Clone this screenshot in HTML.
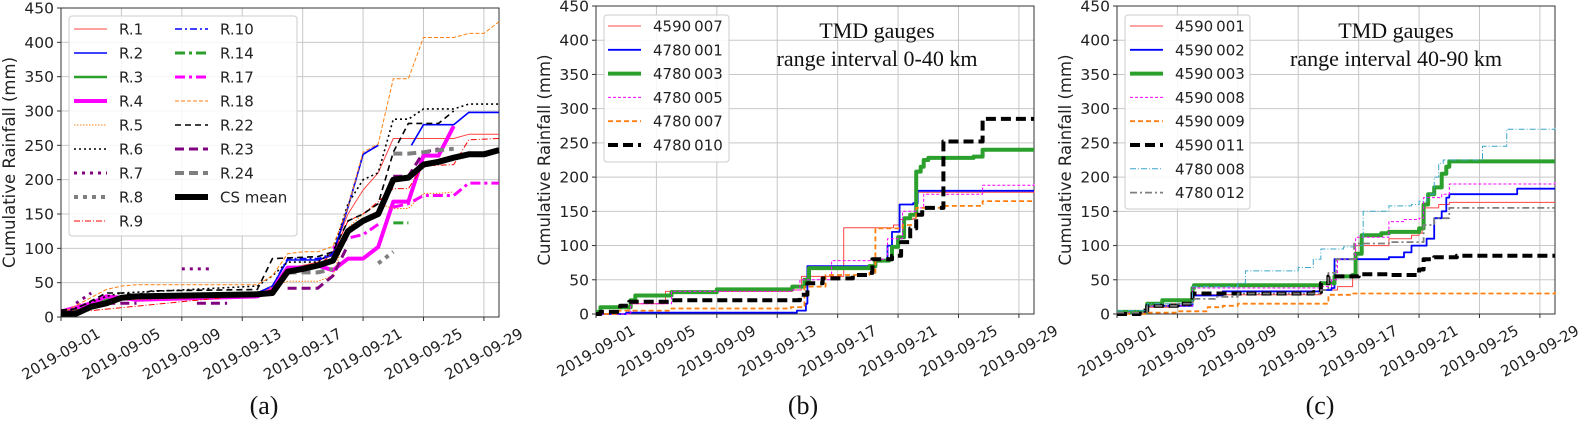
<!DOCTYPE html>
<html><head><meta charset="utf-8">
<style>
html,body{margin:0;padding:0;background:#fff;}
svg{display:block;}
text{font-family:"DejaVu Sans","Liberation Sans",sans-serif;}
.serif{font-family:"Liberation Serif","DejaVu Serif",serif;}
</style></head>
<body>
<svg id="chart" width="1587" height="424" viewBox="0 0 1587 424" xmlns="http://www.w3.org/2000/svg"></svg>
<script>
// ---------- DATA ----------
const yTicks = [0,50,100,150,200,250,300,350,400,450];
const xTickDays = [0,4,8,12,16,20,24,28];
const xTickLabels = ["2019-09-01","2019-09-05","2019-09-09","2019-09-13","2019-09-17","2019-09-21","2019-09-25","2019-09-29"];

// Panel (a) radar pixel series: [day, mm], null = gap
const aNames = ["R.1","R.2","R.3","R.4","R.5","R.6","R.7","R.8","R.9","R.10","R.14","R.17","R.18","R.22","R.23","R.24","CS mean"];
const aR1 = [[0,5],[2,15],[4,28],[13,33],[14,40],[15,72],[16,75],[17,80],[18,95],[19,150],[20,185],[21,210],[22,260],[26,260],[27,266],[29,266]];
const aR2 = [[0,3],[2,15],[4,30],[13,35],[14,45],[15,83],[17,83],[18,90],[19,160],[20,237],[21,250],null,[23.2,250],[24,280],[26,280],[27,298],[29,298]];
const aR3 = [[0,5],[2,20],[3,25],[4,30],[5,30]];
const aR4 = [[0,8],[2,20],[3,30],[4,28],[5,25],[13,30],[14,40],[15,72],[16,72],[17,75],[18,68],[19,85],[20,85],[21,102],[22,168],[23,168],[24,235],[25,235],[26,278]];
const aR5 = [[0,5],[4,25],[13,30],[14,45],[15,52],[17,52],[18,60],[19,130],[20,150],[21,165],[22,158],[23,158],[24,180],[25,180],[26,182]];
const aR6 = [[0,5],[3,30],[4,35],[13,45],[14,60],[15,80],[17,80],[18,95],[19,165],[20,200],[21,210],[22,288],[23,288],[24,303],[26,303],[27,310],[29,310]];
const aR7 = [[1,20],[2,35],null,[8,70],[10,70]];
const aR8 = [[21,78],[22,95]];
const aR9 = [[0,5],[13,33],[14,40],[15,70],[16,72],[17,75],[18,92],[19,140],[20,150],[21,168],[22,187],[23,187],[24,220],[26,222],[27,258],[29,260]];
const aR10 = [[13,35],[14,45],[15,85],[17,85],[18,92],[19,160],[20,237],[21,250]];
const aR14 = [[22,137],[23,137]];
const aR17 = [[18,100],[19,115],[20,120],[21,135],null,[22,160],[23,165],[24,177],[26,177],[27,195],[29,195]];
const aR18 = [[0,5],[3,40],[4,45],[5,47],[13,47],[14,60],[15,92],[16,95],[17,95],[18,103],[19,160],[20,240],[21,252],[22,347],[23,347],[24,407],[26,407],[27,413],[28,413],[29,430]];
const aR22 = [[0,10],[1,12],[3,35],[4,35],[5,32],[6,38],[13,40],[14,85],[17,88],[18,95],[19,140],[20,150],[21,165],[22,240],[23,282],[25,282],[26,300]];
const aR23 = [[3,20],[5,20],null,[9,20],[11,20],null,[15,42],[17,42],[18,60],[19,105],null,[22,205],[23,205],[24,240],[25,245]];
const aR24 = [[15,65],[17,65],[18,70],null,[22,238],[23,238],[24,240],[25,243],[26,245]];
const aMean = [[0,5],[1,5],[2,15],[3,20],[4,28],[5,30],[13,33],[14,35],[15,66],[16,70],[17,75],[18,82],[19,125],[20,140],[21,150],[22,200],[23,203],[24,222],[25,226],[26,232],[27,237],[28,237],[29,243]];

// Panel (b) gauges 0-40 km (step series)
const bNames = ["4590\u2009007","4780\u2009001","4780\u2009003","4780\u2009005","4780\u2009007","4780\u2009010"];
const b1 = [[0,0],[2.2,15],[4.6,33],[13,35],[13.6,55],[16.4,126],[19.7,130],[20.1,138],[21,140],[21.2,178],[29,180]];
const b2 = [[0,0],[2,2],[13.3,5],[13.9,15],[14,70],[18,70],[18.5,78],[19.3,100],[19.6,120],[20.1,160],[21,162],[21.3,180],[29,180]];
const b3 = [[0,3],[0.3,10],[2.3,20],[2.6,27],[5,32],[8,36],[13,40],[13.8,50],[14.1,67],[18.1,70],[18.5,78],[19.4,80],[19.6,98],[20,112],[20.4,140],[20.8,145],[21.2,208],[21.5,215],[21.7,225],[22,228],[25,230],[25.6,240],[29,240]];
const b4 = [[0,0],[2.3,15],[5,33],[13,35],[13.5,50],[15.6,78],[18.3,80],[19.3,110],[20.3,150],[21.2,155],[21.7,175],[25.6,188],[29,190]];
const b5 = [[0,0],[1.5,5],[5,8],[12.9,10],[13.8,40],[15.2,57],[18.1,60],[18.5,125],[20.3,130],[21.2,155],[23,158],[25.6,165],[29,165]];
const b6 = [[0,0],[0.3,3],[1.6,12],[2.2,18],[5,20],[13,20],[13.5,28],[14,45],[15,52],[17,57],[18.1,60],[18.3,80],[19.6,85],[20.2,105],[20.8,125],[21.2,145],[21.6,155],[22.8,155],[23,252],[25.6,285],[29,285]];

// Panel (c) gauges 40-90 km (step series)
const cNames = ["4590\u2009001","4590\u2009002","4590\u2009003","4590\u2009008","4590\u2009009","4590\u2009011","4780\u2009008","4780\u2009012"];
const c1 = [[0,2],[2,10],[3.5,15],[5,28],[13.5,35],[14.6,40],[15.6,55],[15.8,100],[17,100],[18,110],[19.5,115],[20,118],[20.2,155],[21.3,160],[22,163],[29,163]];
const c2 = [[0,2],[2,12],[5,27],[7,33],[13.5,35],[14.2,38],[14.4,80],[16,80],[18,83],[19,90],[19.5,100],[20.5,110],[21,140],[21.5,150],[21.8,170],[22,175],[26.5,183],[29,183]];
const c3 = [[0,3],[2,15],[3,20],[5,38],[5.1,42],[13.5,45],[14.4,55],[15.6,57],[15.8,88],[16.2,115],[17.5,118],[18,120],[20,125],[20.3,160],[20.6,175],[21,185],[21.5,205],[21.8,215],[22,223],[29,223]];
const c4 = [[0,2],[2,12],[5,38],[13.5,40],[14.2,50],[14.6,80],[15.8,112],[17.5,112],[18,135],[19,138],[20,140],[20.3,170],[21.5,175],[22,190],[29,193]];
const c5 = [[0,0],[2,2],[4,4],[6,10],[7,12],[8,15],[13.5,15],[14,28],[15.5,30],[29,32]];
const c6 = [[0,0],[1.5,5],[2,12],[4,15],[5,30],[13,32],[13.5,45],[14,55],[16,58],[18,57],[20,65],[20.3,80],[21,83],[22.5,85],[29,85]];
const c7 = [[0,5],[2,15],[5,40],[8,45],[8.5,63],[12,68],[13,80],[13.5,95],[15,98],[15.8,100],[16.3,150],[18,158],[19.5,160],[20,165],[20.5,175],[21,200],[21.3,220],[21.6,225],[24,225],[24.2,245],[25.5,245],[25.8,270],[29,272]];
const c8 = [[0,2],[2,12],[4,15],[5,22],[6.5,25],[8,30],[13.5,35],[14,60],[14.5,80],[15.6,80],[15.7,103],[17,103],[18,105],[20.3,130],[21,140],[22,155],[29,155]];

// ---------- DRAWING ----------
const NS = "http://www.w3.org/2000/svg";
const svg = document.getElementById("chart");
function mk(tag, attrs, parent){
  const e = document.createElementNS(NS, tag);
  for (const k in attrs) e.setAttribute(k, attrs[k]);
  (parent||svg).appendChild(e);
  return e;
}
const panels = [
  {id:"a", left:61, right:499, top:8, bottom:317, ylabX:9},
  {id:"b", left:596, right:1034, top:6, bottom:314, ylabX:544},
  {id:"c", left:1117, right:1555, top:6, bottom:314, ylabX:1065}
];
function xs(p,d){ return p.left + (p.right-p.left)*d/29; }
function ys(p,v){ return p.bottom - (p.bottom-p.top)*v/450; }

function drawAxes(p){
  const g = mk("g",{});
  
  
  yTicks.forEach(v=>{
    const y = ys(p,v);
    mk("line",{x1:p.left,x2:p.right,y1:y,y2:y,stroke:"#c8c8c8","stroke-width":1},g);
    mk("line",{x1:p.left-4,x2:p.left,y1:y,y2:y,stroke:"#333","stroke-width":1},g);
    const t = mk("text",{x:p.left-7,y:y+5.5,"text-anchor":"end","font-size":15.5,fill:"#222"},g);
    t.textContent = v;
    
    
  });
  xTickDays.forEach((d,i)=>{
    const x = xs(p,d);
    mk("line",{x1:x,x2:x,y1:p.top,y2:p.bottom,stroke:"#c8c8c8","stroke-width":1},g);
    mk("line",{x1:x,x2:x,y1:p.bottom,y2:p.bottom+4,stroke:"#333","stroke-width":1},g);
    const tx = x, ty = p.bottom+37;
    const t = mk("text",{x:tx,y:ty+5,"text-anchor":"middle","font-size":15,fill:"#222",transform:`rotate(-30 ${tx} ${ty})`},g);
    t.textContent = xTickLabels[i];
    
    
  });
  mk("rect",{x:p.left,y:p.top,width:p.right-p.left,height:p.bottom-p.top,fill:"none",stroke:"#333","stroke-width":1},g);
  const cy = (p.top+p.bottom)/2;
  const yl = mk("text",{x:p.ylabX,y:cy,"text-anchor":"middle","font-size":16.5,fill:"#222",transform:`rotate(-90 ${p.ylabX} ${cy})`,dy:6},g);
  yl.textContent = "Cumulative Rainfall (mm)";
  
  
}

function pathFor(p, pts, step){
  let d = "", pen = false;
  pts.forEach(pt=>{
    if (pt===null){ pen=false; return; }
    const x = xs(p,pt[0]), y = ys(p,pt[1]);
    if (!pen){ d += `M${x.toFixed(1)},${y.toFixed(1)}`; pen = true; }
    else {
      if (step) d += `H${x.toFixed(1)}V${y.toFixed(1)}`;
      else d += `L${x.toFixed(1)},${y.toFixed(1)}`;
    }
  });
  return d;
}

function drawSeries(p, pts, st, name, step){
  const path = mk("path",{d:pathFor(p,pts,step),fill:"none",stroke:st.c,"stroke-width":st.w,"stroke-dasharray":st.da||"none","stroke-linejoin":"round","stroke-linecap":st.cap||"butt"});
  
  
}

function drawLegend(p, box, entries){
  const g = mk("g",{});
  
  
  mk("rect",{x:box.x,y:box.y,width:box.w,height:box.h,rx:3,fill:"#fff","fill-opacity":0.85,stroke:"#ccc","stroke-width":1},g);
  entries.forEach(e=>{
    mk("line",{x1:e.x,x2:e.x+33,y1:e.y,y2:e.y,stroke:e.st.c,"stroke-width":e.st.w,"stroke-dasharray":e.st.da||"none","stroke-linecap":e.st.cap||"butt"},g);
    const t = mk("text",{x:e.x+45,y:e.y+5.5,"font-size":15,fill:"#222"},g);
    t.textContent = e.name;
    
    
  });
}

panels.forEach(drawAxes);

// Panel a
const pa = panels[0];
const aStyles = [
  {c:"#ff4444",w:1},
  {c:"#0000ff",w:1.6},
  {c:"#2ca02c",w:2.5},
  {c:"#ff00ff",w:4},
  {c:"#ff7f0e",w:1,da:"1.5,1.5"},
  {c:"#000",w:1.6,da:"2,3"},
  {c:"#800080",w:3,da:"3,5"},
  {c:"#7f7f7f",w:4,da:"4,5"},
  {c:"#ff0000",w:1,da:"6,2,1,2"},
  {c:"#0000ff",w:1.6,da:"7,3,2,3"},
  {c:"#2ca02c",w:3,da:"10,4,3,4"},
  {c:"#ff00ff",w:3,da:"10,4,3,4"},
  {c:"#ff7f0e",w:1,da:"4,2"},
  {c:"#000",w:1.6,da:"6,4"},
  {c:"#800080",w:3,da:"9,5"},
  {c:"#7f7f7f",w:4,da:"9,5"},
  {c:"#000",w:6}
];
const aData = [aR1,aR2,aR3,aR4,aR5,aR6,aR7,aR8,aR9,aR10,aR14,aR17,aR18,aR22,aR23,aR24,aMean];
aData.forEach((s,i)=>drawSeries(pa,s,aStyles[i],aNames[i],false));
const aEntries = aNames.map((n,i)=>({name:n, st:aStyles[i], x: i<9 ? 74 : 175, y: 29 + 24*(i<9?i:i-9)}));
drawLegend(pa,{x:69,y:16,w:228,h:220},aEntries);

// Panel b
const pb = panels[1];
const bStyles = [
  {c:"#ff4444",w:1},
  {c:"#0000ff",w:1.8},
  {c:"#2ca02c",w:4},
  {c:"#ff00ff",w:1,da:"3,2"},
  {c:"#ff7f0e",w:1.8,da:"5,3"},
  {c:"#000",w:4,da:"10,5"}
];
[b1,b2,b3,b4,b5,b6].forEach((s,i)=>drawSeries(pb,s,bStyles[i],"b-"+bNames[i],true));
drawLegend(pb,{x:604,y:15,w:125,h:147},bNames.map((n,i)=>({name:n,st:bStyles[i],x:608,y:26+23.8*i})));

// Panel c
const pc = panels[2];
const cStyles = [
  {c:"#ff4444",w:1},
  {c:"#0000ff",w:1.8},
  {c:"#2ca02c",w:4},
  {c:"#ff00ff",w:1,da:"3,2"},
  {c:"#ff7f0e",w:1.8,da:"5,3"},
  {c:"#000",w:4,da:"10,5"},
  {c:"#3aa6c9",w:1,da:"6,2,1,2"},
  {c:"#7f7f7f",w:1.8,da:"7,3,2,3"}
];
[c1,c2,c3,c4,c5,c6,c7,c8].forEach((s,i)=>drawSeries(pc,s,cStyles[i],"c-"+cNames[i],true));
drawLegend(pc,{x:1125,y:15,w:125,h:194},cNames.map((n,i)=>({name:n,st:cStyles[i],x:1130,y:26+23.8*i})));

// Titles and panel letters
function txt(x,y,s,size,name,anchor){
  const t = mk("text",{x:x,y:y,"font-size":size,"text-anchor":anchor||"middle",fill:"#111",class:"serif"});
  t.textContent = s;
  
  
}
txt(877,38,"TMD gauges",22,"panel-b-title");
txt(877,66,"range interval 0-40 km",22,"panel-b-subtitle");
txt(1396,38,"TMD gauges",22,"panel-c-title");
txt(1396,66,"range interval 40-90 km",22,"panel-c-subtitle");
txt(264,414,"(a)",26,"panel-a-label");
txt(803,414,"(b)",26,"panel-b-label");
txt(1320,414,"(c)",26,"panel-c-label");
</script>
</body></html>
